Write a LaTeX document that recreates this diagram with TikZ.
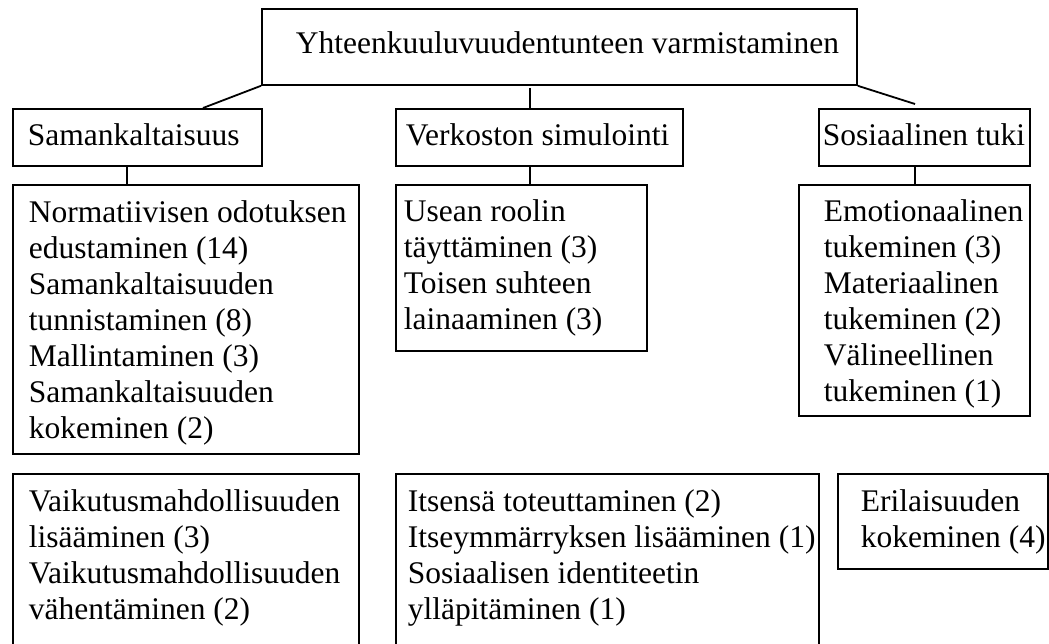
\documentclass[tikz,border=0pt]{standalone}
\usepackage{fontspec}
\setmainfont{Liberation Serif}
\usepackage{tikz}

\begin{document}
\begin{tikzpicture}[x=1pt, y=-1pt, line width=1.8pt,
  every node/.style={font=\fontsize{31.5}{36}\selectfont},
  cellbox/.style n args={4}{draw, anchor=north west, inner sep=0pt,
    execute at begin node={\begin{minipage}[c][#2pt][t]{#1pt}\leftskip=#3pt\relax\rule{0pt}{#4pt}},
    execute at end node={\end{minipage}}}]
\useasboundingbox (0,0) rectangle (1049,644);
\clip (0,0) rectangle (1049,644);

% Top level
\node[cellbox={595}{76}{34}{45}] (root) at (261,8) {Yhteenkuuluvuudentunteen varmistaminen};

% Main categories
\node[cellbox={249}{57}{15}{37}] (sama) at (12,108) {Samankaltaisuus};
\node[cellbox={287}{57}{10}{37}] (verk) at (395,108) {Verkoston simulointi};
\node[cellbox={211}{57}{4}{37}] (sos) at (818,108) {Sosiaalinen tuki};

% Links from top level
\coordinate (samaend) at (203,108);
\coordinate (verkstart) at (530,88);
\coordinate (sosend) at (915,104);
\draw (root.south west) -- (samaend);
\draw (verkstart) -- (verkstart |- verk.north);
\draw (root.south east) -- (sosend);

% Subcategories
\node[cellbox={346}{269}{16}{38}] (samalist) at (12,184)
  {Normatiivisen odotuksen\\ edustaminen (14)\\ Samankaltaisuuden\\ tunnistaminen (8)\\
   Mallintaminen (3)\\ Samankaltaisuuden\\ kokeminen (2)};
\node[cellbox={251}{166}{8}{37}] (verklist) at (395,184)
  {Usean roolin\\ täyttäminen (3)\\ Toisen suhteen\\ lainaaminen (3)};
\node[cellbox={231}{231}{25}{37}] (soslist) at (798,184)
  {Emotionaalinen\\ tukeminen (3)\\ Materiaalinen\\ tukeminen (2)\\ Välineellinen\\ tukeminen (1)};

% Stems
\coordinate (stem1) at (127,0);
\coordinate (stem2) at (530,0);
\coordinate (stem3) at (915,0);
\draw (sama.south -| stem1) -- (samalist.north -| stem1);
\draw (verk.south -| stem2) -- (verklist.north -| stem2);
\draw (sos.south -| stem3) -- (soslist.north -| stem3);

% Unlinked themes
\node[cellbox={346}{200}{16}{38}] (vaik) at (12,473)
  {Vaikutusmahdollisuuden\\ lisääminen (3)\\ Vaikutusmahdollisuuden\\ vähentäminen (2)};
\node[cellbox={423}{200}{12}{38}] (itse) at (395,473)
  {Itsensä toteuttaminen (2)\\ Itseymmärryksen lisääminen (1)\\ Sosiaalisen identiteetin\\ ylläpitäminen (1)};
\node[cellbox={210}{95}{23}{38}] (eril) at (837,473)
  {Erilaisuuden\\ kokeminen (4)};

\end{tikzpicture}
\end{document}
